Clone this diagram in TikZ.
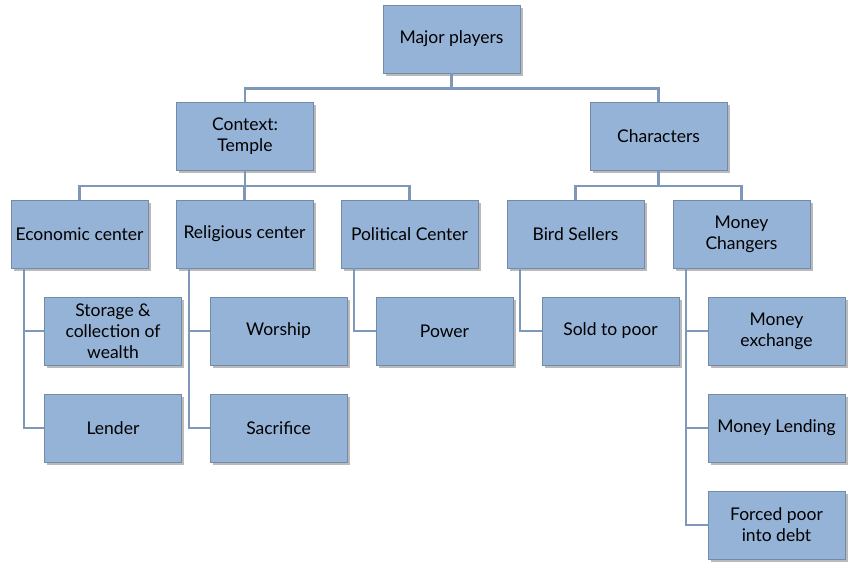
\documentclass[tikz,border=0pt]{standalone}
\usepackage{fontspec}
\setmainfont{Lato}
\usetikzlibrary{shadows}

\definecolor{boxfill}{RGB}{149,179,215}
\definecolor{boxline}{RGB}{115,138,168}
\definecolor{linkcol}{RGB}{125,152,184}

\tikzset{
  player/.style={draw=boxline, fill=boxfill, line width=0.8pt, minimum width=137pt, minimum height=68pt,
    align=center, font=\fontsize{17.5}{21}\selectfont, inner sep=2pt,
    drop shadow={shadow xshift=2.5pt, shadow yshift=-2.5pt, opacity=0.45, fill=black!60}},
  link/.style={draw=linkcol, line width=2.2pt},
}

\begin{document}
\begin{tikzpicture}[x=1pt,y=-1pt]
\useasboundingbox (0,0) rectangle (857,566);
% top levels
\node[player] (major) at (451.5,39) {Major players};
\node[player] (context) at (245,136.5) {Context:\\Temple};
\node[player] (chars) at (658.5,136.5) {Characters};
% groups
\node[player] (econ) at (79.5,234) {Economic center};
\node[player] (relig) at (244.5,234) {Religious center};
\node[player] (polit) at (409.5,234) {Political Center};
\node[player] (bird) at (575.5,234) {Bird Sellers};
\node[player] (changers) at (741.5,234) {Money\\Changers};
% leaves
\node[player] (storage) at (113,331) {Storage \&\\collection of\\wealth};
\node[player] (lender) at (113,428) {Lender};
\node[player] (worship) at (278.5,331) {Worship};
\node[player] (sacrifice) at (278.5,428) {Sacrifice};
\node[player] (power) at (444.5,331) {Power};
\node[player] (sold) at (610.5,331) {Sold to poor};
\node[player] (exchange) at (776.5,331) {Money\\exchange};
\node[player] (lending) at (776.5,428) {Money Lending};
\node[player] (forced) at (776.5,525) {Forced poor\\into debt};

% connectors
\draw[link] (major.south) -- ++(0,15) -| (context.north);
\draw[link] (major.south) -- ++(0,15) -| (chars.north);
\foreach \kid in {econ,relig,polit}
  \draw[link] (context.south) -- ++(0,15) -| (\kid.north);
\foreach \kid in {bird,changers}
  \draw[link] (chars.south) -- ++(0,15) -| (\kid.north);
\draw[link] ([xshift=13pt]econ.south west) |- (storage.west);
\draw[link] ([xshift=13pt]econ.south west) |- (lender.west);
\draw[link] ([xshift=13pt]relig.south west) |- (worship.west);
\draw[link] ([xshift=13pt]relig.south west) |- (sacrifice.west);
\draw[link] ([xshift=13pt]polit.south west) |- (power.west);
\draw[link] ([xshift=13pt]bird.south west) |- (sold.west);
\draw[link] ([xshift=13pt]changers.south west) |- (exchange.west);
\draw[link] ([xshift=13pt]changers.south west) |- (lending.west);
\draw[link] ([xshift=13pt]changers.south west) |- (forced.west);
\end{tikzpicture}
\end{document}
